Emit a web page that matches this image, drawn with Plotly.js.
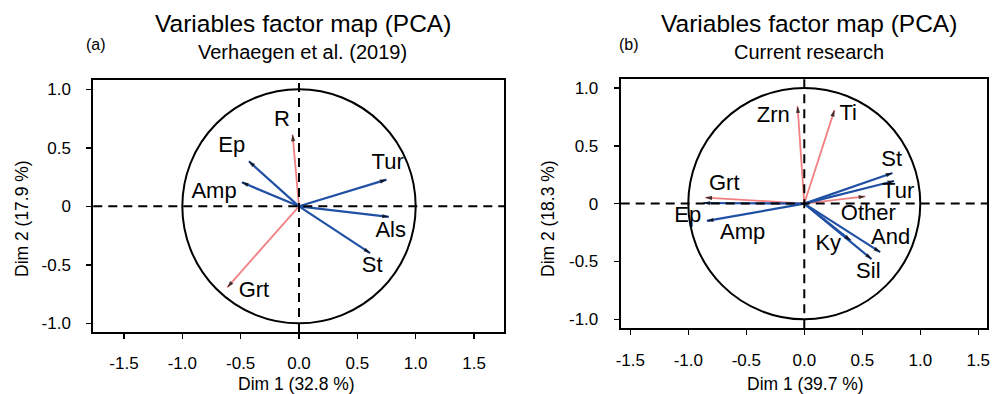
<!DOCTYPE html>
<html>
<head>
<meta charset="utf-8">
<script src="https://cdn.plot.ly/plotly-3.0.1.min.js"></script>
<style>
  html, body { margin: 0; padding: 0; background: #ffffff; }
  #chart { width: 998px; height: 394px; }
</style>
</head>
<body>
<div id="chart"></div>
<script>
// ---------- Panel (a): Verhaegen et al. (2019) ----------
var varsA   = ['R', 'Ep', 'Amp', 'Tur', 'Als', 'St', 'Grt'];
var dim1A   = [-0.055, -0.43, -0.49, 0.75, 0.77, 0.61, -0.614];
var dim2A   = [0.613, 0.385, 0.205, 0.228, -0.09, -0.40, -0.692];
var groupA  = ['red', 'blue', 'blue', 'blue', 'blue', 'blue', 'red'];
var labelXA = [-0.146, -0.577, -0.728, 0.76, 0.786, 0.628, -0.386];
var labelYA = [0.73, 0.513, 0.115, 0.37, -0.214, -0.513, -0.727];

// ---------- Panel (b): Current research ----------
var varsB   = ['Zrn', 'Ti', 'St', 'Tur', 'Other', 'Grt', 'Ep', 'Amp', 'Ky', 'And', 'Sil'];
var dim1B   = [-0.058, 0.26, 0.76, 0.775, 0.526, -0.853, -0.87, -0.84, 0.40, 0.655, 0.58];
var dim2B   = [0.842, 0.808, 0.265, 0.195, 0.062, 0.052, 0.005, -0.15, -0.32, -0.42, -0.48];
var groupB  = ['red', 'red', 'blue', 'blue', 'red', 'red', 'blue', 'blue', 'blue', 'blue', 'blue'];
var labelXB = [-0.267, 0.379, 0.753, 0.81, 0.552, -0.69, -1.005, -0.531, 0.207, 0.745, 0.552];
var labelYB = [0.755, 0.77, 0.376, 0.10, -0.098, 0.169, -0.113, -0.256, -0.357, -0.305, -0.595];

// ---------- Tick labels ----------
var xTickVals = [-1.5, -1, -0.5, 0, 0.5, 1, 1.5];
var xTickText = ['-1.5', '-1.0', '-0.5', '0.0', '0.5', '1.0', '1.5'];
var yTickVals = [-1, -0.5, 0, 0.5, 1];
var yTickText = ['-1.0', '-0.5', '0', '0.5', '1.0'];

// ---------- Titles ----------
var mainTitle = 'Variables factor map (PCA)';
var subTitleA = 'Verhaegen et al. (2019)';
var subTitleB = 'Current research';
var xTitleA = 'Dim 1 (32.8 %)';
var yTitleA = 'Dim 2 (17.9 %)';
var xTitleB = 'Dim 1 (39.7 %)';
var yTitleB = 'Dim 2 (18.3 %)';

var FONT = '"Liberation Sans", Arial, Helvetica, sans-serif';
var COLORS = { red: '#f08082', blue: '#2050a4' };
var W = 998, H = 394;
function px(x) { return x / W; }
function py(y) { return 1 - y / H; }

var traces = [];
var annotations = [];
var shapes = [];

function addPanel(vars, d1, d2, grp, lx, ly, xa, ya) {
  ['red', 'blue'].forEach(function (g) {
    var xs = [], ys = [];
    for (var i = 0; i < vars.length; i++) {
      if (grp[i] !== g) continue;
      xs.push(0, d1[i], null);
      ys.push(0, d2[i], null);
    }
    traces.push({
      type: 'scatter', mode: 'lines', x: xs, y: ys,
      xaxis: xa, yaxis: ya, hoverinfo: 'skip', showlegend: false,
      line: { color: COLORS[g], width: g === 'blue' ? 2.2 : 1.8 }
    });
  });
  // arrow heads (one tiny trace per arrow so direction follows the vector)
  for (var i = 0; i < vars.length; i++) {
    traces.push({
      type: 'scatter', mode: 'markers',
      x: [d1[i] * 0.9, d1[i]], y: [d2[i] * 0.9, d2[i]],
      xaxis: xa, yaxis: ya, hoverinfo: 'skip', showlegend: false,
      marker: { symbol: 'arrow', angleref: 'previous', size: [0, 7],
                color: '#000000', line: { width: 0 } }
    });
  }
  // labels
  traces.push({
    type: 'scatter', mode: 'text', x: lx, y: ly, text: vars,
    xaxis: xa, yaxis: ya, showlegend: false, hoverinfo: 'skip',
    textposition: 'middle center',
    textfont: { family: FONT, size: 22, color: '#000000' }
  });
  // circle and dashed axes
  shapes.push({ type: 'circle', xref: xa, yref: ya, x0: -1, x1: 1, y0: -1, y1: 1,
    line: { color: '#000000', width: 2 }, layer: 'below' });
  shapes.push({ type: 'line', xref: xa + ' domain', yref: ya, x0: 0, x1: 1, y0: 0, y1: 0,
    line: { color: '#000000', width: 2, dash: '9px,6px' }, layer: 'above' });
  shapes.push({ type: 'line', xref: xa, yref: ya + ' domain', x0: 0, x1: 0, y0: 0, y1: 1,
    line: { color: '#000000', width: 2, dash: '9px,6px' }, layer: 'above' });
}

addPanel(varsA, dim1A, dim2A, groupA, labelXA, labelYA, 'x', 'y');
addPanel(varsB, dim1B, dim2B, groupB, labelXB, labelYB, 'x2', 'y2');

function txt(text, x, y, size, angle) {
  annotations.push({
    xref: 'paper', yref: 'paper', x: px(x), y: py(y),
    xanchor: 'center', yanchor: 'middle', showarrow: false,
    text: text, textangle: angle || 0,
    font: { family: FONT, size: size, color: '#000000' }
  });
}
txt(mainTitle, 302.5, 24, 24.5);
txt(subTitleA, 302.8, 52, 20);
txt('(a)', 96.3, 45, 16);
txt(xTitleA, 296, 384, 17.5);
txt(yTitleA, 22, 219, 17.5, -90);

txt(mainTitle, 808.8, 24, 24.5);
txt(subTitleB, 808.5, 52, 20);
txt('(b)', 629, 45, 16);
txt(xTitleB, 805.5, 384, 17.5);
txt(yTitleB, 548, 219, 17.5, -90);

function xAxis(domain, range, anchor) {
  return {
    domain: domain, range: range, anchor: anchor,
    tickmode: 'array', tickvals: xTickVals, ticktext: xTickText,
    ticks: 'outside', ticklen: 5, tickwidth: 1.5, tickcolor: '#000000',
    showline: true, linecolor: '#000000', linewidth: 2, mirror: true,
    showgrid: false, zeroline: false, fixedrange: true,
    ticklabelstandoff: 10,
    tickfont: { family: FONT, size: 17, color: '#000000' }
  };
}
function yAxis(domain, range, anchor) {
  return {
    domain: domain, range: range, anchor: anchor,
    tickmode: 'array', tickvals: yTickVals, ticktext: yTickText,
    ticks: 'outside', ticklen: 5, tickwidth: 1.5, tickcolor: '#000000',
    showline: true, linecolor: '#000000', linewidth: 2, mirror: true,
    showgrid: false, zeroline: false, fixedrange: true,
    ticklabelstandoff: 12,
    tickfont: { family: FONT, size: 17, color: '#000000' }
  };
}

var layout = {
  width: W, height: H,
  margin: { l: 0, r: 0, t: 0, b: 0 },
  paper_bgcolor: '#ffffff', plot_bgcolor: '#ffffff',
  showlegend: false,
  xaxis:  xAxis([px(93.3), px(504)], [-1.763, 1.757], 'y'),
  yaxis:  yAxis([py(332), py(80)], [-1.074, 1.0795], 'x'),
  xaxis2: xAxis([px(620.7), px(987.3)], [-1.583, 1.578], 'y2'),
  yaxis2: yAxis([py(328.3), py(79)], [-1.078, 1.077], 'x2'),
  annotations: annotations,
  shapes: shapes
};

Plotly.newPlot('chart', traces, layout, { displayModeBar: false, staticPlot: true });
</script>
</body>
</html>
